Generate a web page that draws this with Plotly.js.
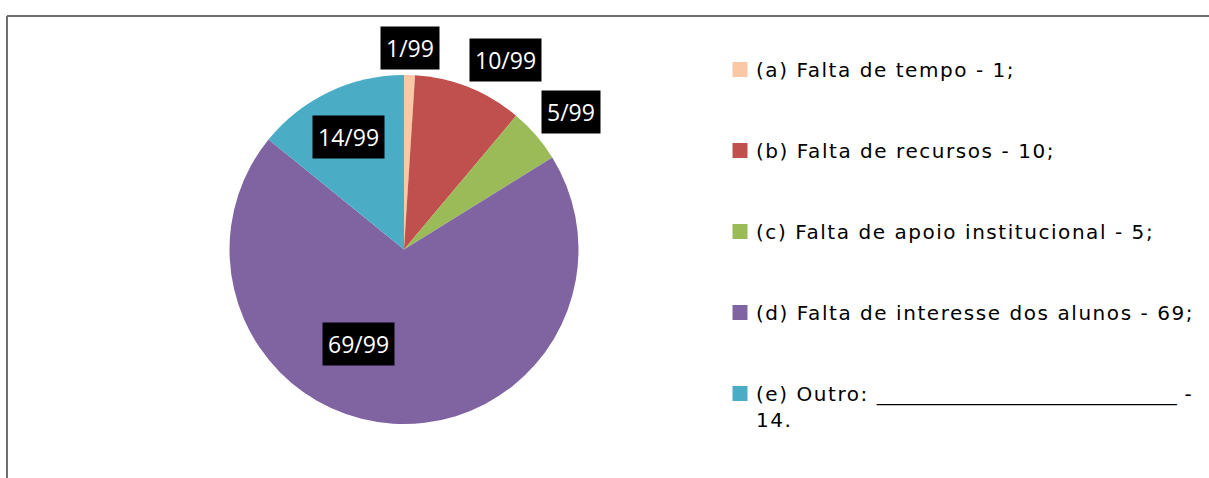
<!DOCTYPE html>
<html>
<head>
<meta charset="utf-8">
<script src="https://cdn.plot.ly/plotly-3.0.1.min.js"></script>
<style>
html,body{margin:0;padding:0;background:#fff;}
#chart{width:1209px;height:478px;}
.legendtext{letter-spacing:1.55px;}
#chart .legendpie{transform:translate(24px,0px) scale(1.25);}
</style>
</head>
<body>
<div id="chart"></div>
<script>
// ---- data ----
const categories = ['(a) Falta de tempo', '(b) Falta de recursos', '(c) Falta de apoio institucional', '(d) Falta de interesse dos alunos', '(e) Outro'];
const values = [1, 10, 5, 69, 14];
const legendLabels = [
  '(a) Falta de tempo - 1;',
  '(b) Falta de recursos - 10;',
  '(c) Falta de apoio institucional - 5;',
  '(d) Falta de interesse dos alunos - 69;',
  '(e) Outro: <span style="letter-spacing:0px">______________________________</span> -<br>14.'
];
const colors = ['#FAC8A4', '#C0504D', '#9BBB59', '#8064A2', '#4BACC6'];

// ---- label placement style (radius factor / angle shift, Excel "best fit" look) ----
const labelRadius = [1.155, 1.23, 1.24, 0.6, 0.72];
const labelShift = [0, 6.4, 1.4, 22, -1];

const W = 1209, H = 478;
const cx = 404, cy = 249.5, R = 174.5;
const dom = {x: [(cx - R) / W, (cx + R) / W], y: [1 - (cy + R) / H, 1 - (cy - R) / H]};

const total = values.reduce((a, b) => a + b, 0);
const labelFont = "'Open Sans', 'Noto Sans', sans-serif";
const legendFont = "'DejaVu Sans', 'Open Sans', sans-serif";

// legend entries: pad with blank lines for Excel-like spacing
const legendText = legendLabels.map((t, i) => i < legendLabels.length - 1 ? t + '<br> <br> ' : t);

const trace = {
  type: 'pie',
  labels: legendText,
  values: values,
  sort: false,
  direction: 'clockwise',
  rotation: 0,
  textinfo: 'none',
  hoverinfo: 'none',
  marker: {colors: colors, line: {width: 0}},
  domain: dom
};

// annotations with label boxes, positioned from cumulative slice angles
const annotations = [];
let cum = 0;
values.forEach((v, i) => {
  const mid = (cum + v / 2) / total * 360 + labelShift[i];
  cum += v;
  const a = mid * Math.PI / 180;
  const r = R * labelRadius[i];
  const px = cx + r * Math.sin(a);
  const py = cy - r * Math.cos(a);
  annotations.push({
    xref: 'paper', yref: 'paper',
    x: px / W, y: 1 - py / H,
    xanchor: 'center', yanchor: 'middle',
    text: v + '/' + total,
    showarrow: false,
    bgcolor: '#000000',
    borderpad: 5,
    font: {family: labelFont, size: 23, color: '#ffffff'}
  });
});

const layout = {
  width: W, height: H,
  margin: {l: 0, r: 0, t: 0, b: 0},
  paper_bgcolor: '#ffffff',
  showlegend: true,
  legend: {
    x: 716 / W, y: 1 - 50 / H, xanchor: 'left', yanchor: 'top',
    valign: 'top',
    font: {family: legendFont, size: 20, color: '#000000'},
    bgcolor: 'rgba(0,0,0,0)'
  },
  annotations: annotations,
  shapes: [
    {type: 'line', xref: 'paper', yref: 'paper', x0: 7 / W, x1: 1.05, y0: 1 - 16 / H, y1: 1 - 16 / H, line: {color: '#6e6e6e', width: 2}},
    {type: 'line', xref: 'paper', yref: 'paper', x0: 7 / W, x1: 7 / W, y0: 1 - 16 / H, y1: -0.05, line: {color: '#6e6e6e', width: 2}}
  ]
};

Plotly.newPlot('chart', [trace], layout, {displayModeBar: false, staticPlot: true});
</script>
</body>
</html>
